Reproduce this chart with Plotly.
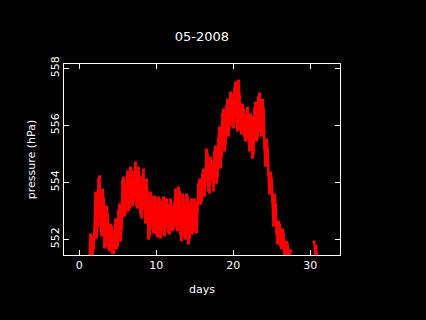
import plotly.graph_objects as go

# Data (day of month, pressure envelope per time step)
days = [1.39, 1.65, 1.91, 2.17, 2.43, 2.69, 2.95, 3.21, 3.47, 3.73, 3.99, 4.25, 4.51, 4.77,
        5.03, 5.29, 5.55, 5.81, 6.06, 6.32, 6.58, 6.84, 7.10, 7.36, 7.62, 7.88, 8.14, 8.39,
        8.66, 8.92, 9.18, 9.44, 9.70, 9.96, 10.22, 10.48, 10.74, 11.00, 11.26, 11.52, 11.78,
        12.04, 12.30, 12.56, 12.82, 13.08, 13.34, 13.60, 13.86, 14.12, 14.38, 14.64, 14.90,
        15.16, 15.42, 15.68, 15.94, 16.19, 16.45, 16.71, 16.97, 17.23, 17.49, 17.75, 18.01,
        18.27, 18.53, 18.79, 19.05, 19.31, 19.57, 19.83, 20.09, 20.35, 20.61, 20.87, 21.13,
        21.39, 21.65, 21.91, 22.17, 22.43, 22.69, 22.95, 23.21, 23.47, 23.73, 23.99, 24.25,
        24.51, 24.77, 25.03, 25.29, 25.55, 25.81, 26.07, 26.33, 26.58, 26.84, 27.10, 27.36]
p_high = [552.15, 552.05, 552.33, 553.62, 554.08, 554.19, 553.73, 553.38, 553.13, 552.85,
          552.50, 552.43, 552.26, 552.68, 552.96, 553.20, 554.00, 554.15, 553.90, 554.36,
          554.50, 554.36, 554.25, 554.68, 554.50, 554.08, 554.15, 554.43, 554.08, 553.55,
          553.62, 553.45, 553.48, 553.38, 553.45, 553.38, 553.27, 553.45, 553.38, 553.20,
          553.38, 553.10, 553.20, 553.73, 553.80, 553.62, 553.55, 553.38, 553.55, 553.45,
          553.27, 553.38, 553.38, 553.20, 553.90, 554.08, 554.25, 554.43, 555.13, 554.96,
          554.85, 554.61, 555.03, 555.24, 555.48, 555.90, 556.36, 556.53, 556.64, 556.88,
          557.13, 557.06, 557.24, 557.48, 557.55, 556.99, 556.71, 556.53, 556.36, 556.60,
          556.36, 556.25, 556.53, 556.78, 556.95, 557.10, 556.88, 556.53, 555.48, 555.13,
          554.33, 554.08, 553.55, 553.20, 552.60, 552.50, 552.33, 552.15, 551.90, 551.80,
          551.60]
p_low = [551.40, 551.50, 551.73, 552.08, 552.50, 552.57, 552.15, 551.73, 551.80, 551.70,
         551.62, 551.55, 551.55, 551.70, 551.80, 551.98, 552.43, 552.85, 552.96, 553.03,
         553.13, 553.20, 553.38, 553.20, 553.13, 552.96, 552.78, 553.20, 552.60, 552.04,
         552.15, 552.40, 552.26, 552.22, 552.12, 552.08, 552.33, 552.15, 552.43, 552.26,
         552.22, 552.33, 552.40, 552.50, 552.33, 552.22, 551.98, 552.15, 552.04, 551.87,
         552.08, 552.22, 552.33, 552.26, 553.03, 553.27, 553.38, 553.55, 554.08, 553.73,
         553.66, 554.08, 553.73, 554.00, 554.26, 554.54, 554.96, 555.13, 555.38, 555.66,
         556.08, 556.01, 555.94, 556.18, 555.83, 555.90, 555.73, 555.66, 555.48, 555.59,
         555.13, 554.88, 555.06, 555.48, 555.59, 555.83, 555.66, 555.24, 554.60, 554.26,
         553.62, 553.38, 552.50, 552.26, 551.87, 551.80, 551.70, 551.45, 551.45, 551.40,
         551.40]

# isolated readings near end of month
late_days = [30.50, 30.62, 30.75, 30.85]
late_p = [551.90, 551.45, 551.75, 551.50]

x_ticks = [0, 10, 20, 30]
y_ticks = [552, 554, 556, 558]

# build zig-zag trace between low and high readings
xs, ys = [], []
for i, d in enumerate(days):
    xs += [d - 0.06, d + 0.06]
    if i % 2 == 0:
        ys += [p_low[i], p_high[i]]
    else:
        ys += [p_high[i], p_low[i]]

red = "#ff0000"
fig = go.Figure()
fig.add_trace(go.Scatter(x=xs, y=ys, mode="lines+markers",
                         line=dict(color=red, width=2.5),
                         marker=dict(color=red, size=3, symbol="square"),
                         showlegend=False, hoverinfo="skip"))
fig.add_trace(go.Scatter(x=late_days, y=late_p, mode="lines+markers",
                         line=dict(color=red, width=2),
                         marker=dict(color=red, size=3, symbol="square"),
                         showlegend=False, hoverinfo="skip"))

font = dict(family="DejaVu Sans", size=11, color="white")
fig.update_layout(
    width=426, height=320,
    paper_bgcolor="black", plot_bgcolor="black",
    margin=dict(l=64, r=86, t=64, b=65, autoexpand=False),
    font=font,
    title=dict(text="05-2008", x=0.5, xref="paper", y=1 - 36 / 320, yanchor="middle",
               xanchor="center", font=dict(family="DejaVu Sans", size=13, color="white")),
    xaxis=dict(range=[-1.99, 33.86], tickvals=x_ticks, ticks="inside", ticklen=5,
               tickcolor="white", showline=True, linecolor="white", linewidth=1,
               mirror="ticks", showgrid=False, zeroline=False,
               title=dict(text="days", standoff=14, font=font), tickfont=font),
    yaxis=dict(range=[551.45, 558.15], tickvals=y_ticks, ticks="inside", ticklen=5,
               tickcolor="white", showline=True, linecolor="white", linewidth=1,
               mirror="ticks", showgrid=False, zeroline=False, tickangle=-90,
               title=dict(text="pressure (hPa)", standoff=10, font=font), tickfont=font),
)

fig.write_html("out.html", config={"displayModeBar": False},
               post_script="document.body.style.margin='0';document.body.style.background='black';")
